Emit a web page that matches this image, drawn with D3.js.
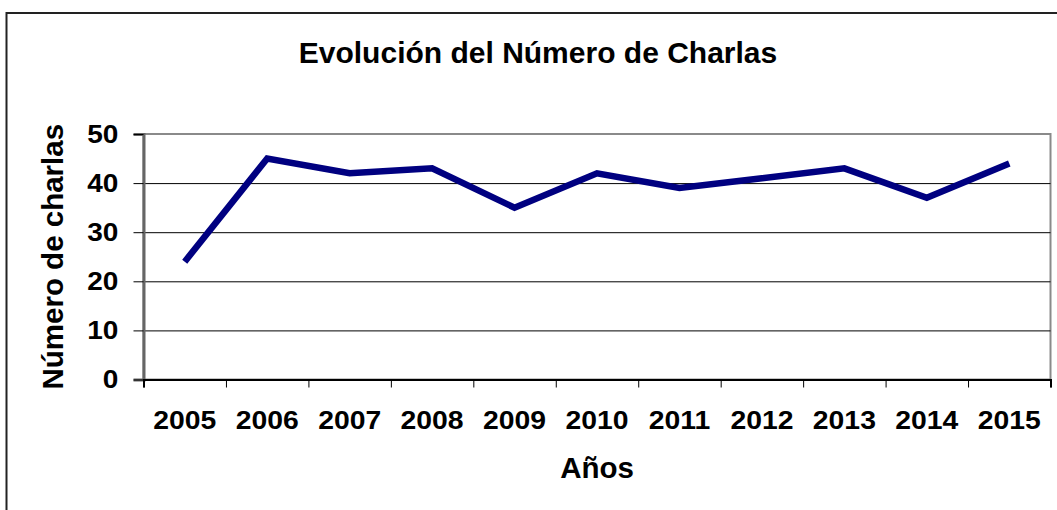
<!DOCTYPE html>
<html>
<head>
<meta charset="utf-8">
<script src="https://cdn.jsdelivr.net/npm/d3@7.9.0/dist/d3.min.js"></script>
<style>
  html, body { margin: 0; padding: 0; background: #fff; overflow: hidden; }
  svg { display: block; font-family: "Liberation Sans", Arial, sans-serif; font-weight: bold; }
</style>
</head>
<body>
<div id="chart"></div>
<script>
// data
const years = ['2005', '2006', '2007', '2008', '2009', '2010', '2011', '2012', '2013', '2014', '2015'];
const charlas = [24, 45, 42, 43, 35, 42, 39, 41, 43, 37, 44];
const yTicks = [0, 10, 20, 30, 40, 50];

const title = 'Evolución del Número de Charlas';
const xTitle = 'Años';
const yTitle = 'Número de charlas';

const width = 1057;
const height = 510;
const plot = { left: 143.5, right: 1050.5, top: 134, bottom: 379.5 };

const svg = d3.select('#chart')
  .append('svg')
  .attr('width', width)
  .attr('height', height);

// outer chart frame (runs off the right and bottom of the picture)
svg.append('rect')
  .attr('x', 6.5).attr('y', 13)
  .attr('width', 1100).attr('height', 600)
  .attr('fill', 'none')
  .attr('stroke', '#222')
  .attr('stroke-width', 2);

const x = d3.scaleBand()
  .domain(years)
  .range([plot.left, plot.right])
  .padding(0);

const xEdges = d3.scaleLinear()
  .domain([0, years.length])
  .range([plot.left, plot.right]);

const y = d3.scaleLinear()
  .domain([0, 50])
  .range([plot.bottom, plot.top]);

// plot area border
svg.append('rect')
  .attr('x', plot.left).attr('y', plot.top)
  .attr('width', plot.right - plot.left)
  .attr('height', plot.bottom - plot.top)
  .attr('fill', 'none')
  .attr('stroke', '#8a8a8a')
  .attr('stroke-width', 2);

// gridlines
svg.append('g')
  .attr('class', 'grid')
  .attr('transform', `translate(${plot.left},0)`)
  .call(d3.axisLeft(y).tickValues([10, 20, 30, 40]).tickFormat('').tickSize(-(plot.right - plot.left)))
  .call(g => g.select('.domain').remove())
  .call(g => g.selectAll('line').attr('stroke', '#000').attr('stroke-width', 1));

// y axis (labels slightly wider than the font, as in the original)
svg.append('g')
  .attr('transform', `translate(${plot.left},0)`)
  .call(d3.axisLeft(y).tickValues(yTicks).tickSize(10).tickPadding(12.5))
  .call(g => g.select('.domain').attr('stroke', '#666').attr('stroke-width', 3))
  .call(g => g.selectAll('line').attr('stroke', '#000').attr('stroke-width', 1))
  .call(g => g.selectAll('text')
    .attr('fill', '#000')
    .attr('transform', 'scale(1.12,1)')
    .style('font-size', '25px')
    .style('font-weight', 'bold'));

// x axis: boundary ticks
svg.append('g')
  .attr('transform', `translate(0,${plot.bottom})`)
  .call(d3.axisBottom(xEdges).tickValues(d3.range(years.length + 1)).tickFormat('').tickSize(8))
  .call(g => g.select('.domain').attr('stroke', '#000').attr('stroke-width', 2))
  .call(g => g.selectAll('line').attr('stroke', '#000').attr('stroke-width', 1));

// x axis: labels centred in each category
svg.append('g')
  .attr('transform', `translate(0,${plot.bottom})`)
  .call(d3.axisBottom(x).tickSize(0).tickPadding(31))
  .call(g => g.select('.domain').remove())
  .call(g => g.selectAll('text')
    .attr('fill', '#000')
    .attr('transform', 'scale(1.09,1)')
    .style('font-size', '26px')
    .style('font-weight', 'bold'));

// the line
const line = d3.line()
  .x((d, i) => x(years[i]) + x.bandwidth() / 2)
  .y(d => y(d));

svg.append('path')
  .datum(charlas)
  .attr('d', line)
  .attr('fill', 'none')
  .attr('stroke', '#000080')
  .attr('stroke-width', 6.5)
  .attr('stroke-linejoin', 'miter')
  .attr('stroke-linecap', 'butt');

// titles
svg.append('text')
  .attr('x', 538).attr('y', 63)
  .attr('text-anchor', 'middle')
  .style('font-size', '30px')
  .text(title);

svg.append('text')
  .attr('x', (plot.left + plot.right) / 2).attr('y', 478)
  .attr('text-anchor', 'middle')
  .style('font-size', '29.5px')
  .text(xTitle);

svg.append('text')
  .attr('transform', `translate(63,${(plot.top + plot.bottom) / 2}) rotate(-90)`)
  .attr('text-anchor', 'middle')
  .style('font-size', '29.5px')
  .text(yTitle);
</script>
</body>
</html>
